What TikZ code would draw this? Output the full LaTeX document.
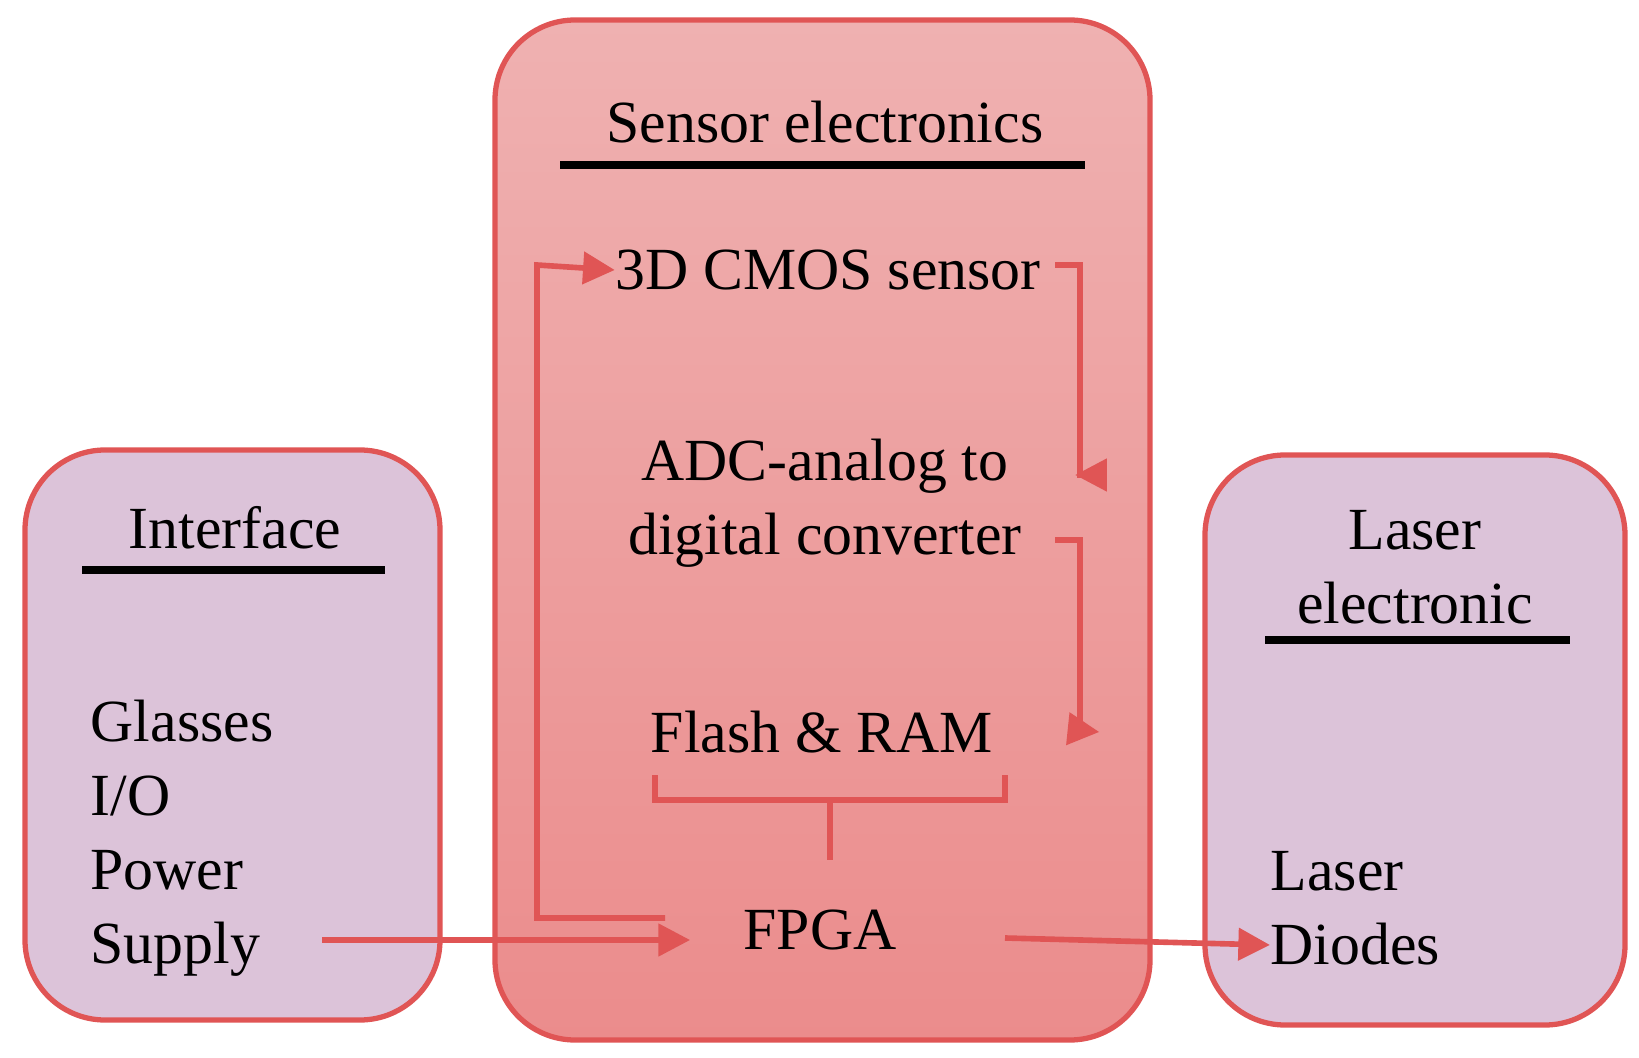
\documentclass[tikz,border=0pt]{standalone}
\usepackage{fontspec}
\setmainfont{Liberation Serif}
\usetikzlibrary{arrows.meta}
\definecolor{edge}{HTML}{E05555}
\definecolor{lilac}{HTML}{DCC3D9}
\definecolor{pinktop}{HTML}{EFB1B1}
\definecolor{pinkbot}{HTML}{EB8C8C}
\tikzset{
  box/.style={draw=edge, line width=1.5pt, rounded corners=0.8cm},
  txt/.style={font=\fontsize{17}{21}\selectfont, inner sep=0pt, align=center},
  rule/.style={line width=2.5pt},
  conn/.style={draw=edge, line width=1.6pt},
  arr/.style={conn, -{Triangle[length=9pt,width=9pt]}},
}
\begin{document}
\begin{tikzpicture}[x=0.01cm,y=-0.01cm]
\useasboundingbox (0,0) rectangle (1639,1058);

% boxes
\shade[box, top color=pinktop, bottom color=pinkbot] (495,20) rectangle (1150,1040);
\draw[box, fill=lilac] (25,450) rectangle (440,1020);
\draw[box, fill=lilac] (1205,455) rectangle (1625,1025);

% headings
\node[txt] (se) at (825,122) {Sensor electronics};
\draw[rule] (560,165) -- (1085,165);
\node[txt] (if) at (235,528) {Interface};
\draw[rule] (82,570) -- (385,570);
\node[txt] (le) at (1415,567) {Laser\\electronic};
\draw[rule] (1265,640) -- (1570,640);

% contents
\node[txt] (cmos) at (828,270) {3D CMOS sensor};
\node[txt] (adc) at (825,503) {ADC-analog to\\digital converter};
\node[txt] (mem) at (822,732) {Flash \& RAM};
\node[txt] (fpga) at (820,930) {FPGA};
\node[txt, align=left, anchor=west] (io) at (90,838) {Glasses\\I/O\\Power\\Supply};
\node[txt, align=left, anchor=west] (ld) at (1270,908) {Laser\\Diodes};

% connectors
\coordinate (f1) at (665,918);
\coordinate (c1) at (1055,265);
\coordinate (a1) at (1055,540);
\draw[arr] (f1) -- (537,918) -- (537,265) -- (cmos.west);
\draw[arr] (c1) -- (1080,265) -- (1080,475) -- ([xshift=15]adc.north east |- 0,475);
\draw[arr] (a1) -- (1080,540) -- (1080,730) -- ([xshift=30]mem.east);
\draw[conn] (655,775) -- (655,800) -- (1005,800) -- (1005,775);
\draw[conn] (830,800) -- (830,860);
\draw[arr] (322,940) -- ([xshift=-15]fpga.west |- 0,940);
\draw[arr] (1005,938) -- (ld.west |- 0,945);
\end{tikzpicture}
\end{document}
